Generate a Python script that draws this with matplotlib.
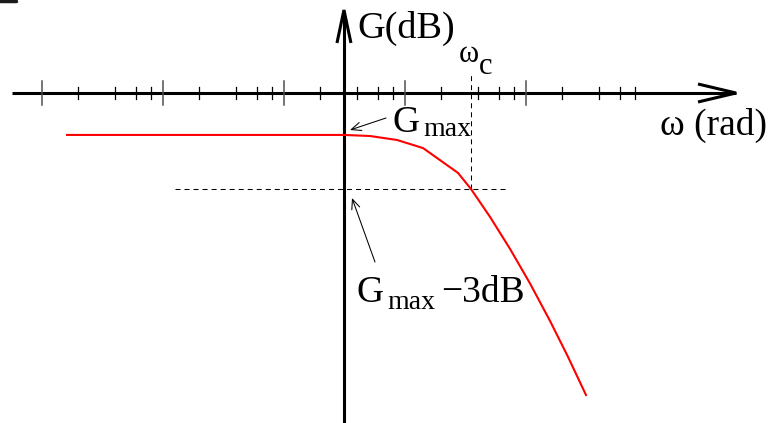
import numpy as np
import matplotlib
matplotlib.use("Agg")
import matplotlib.pyplot as plt
from matplotlib.lines import Line2D

plt.rcParams["font.family"] = ["Liberation Serif", "DejaVu Serif"]
plt.rcParams["lines.scale_dashes"] = False

W, H, DPI = 771, 423, 100

# Low-pass gain response: angular frequency (rad/s) vs gain (dB)
omega = [1.61, 313, 514, 859, 1410, 2742, 3508, 5040, 7378, 10792, 15790, 22250, 31320]
gain_db = [-2.33, -2.33, -2.39, -2.61, -3.06, -4.44, -5.33, -6.88, -8.66, -10.58,
           -12.66, -14.66, -16.78]

g_max = -2.33
omega_c = 3508
omega_gaxis = 313          # where the gain axis crosses the frequency axis

decades = [1, 10, 100, 1000, 10000]
minor_mult = [2, 4, 6, 8]

# pixels per decade / per dB, and the pixel position of (1 rad/s, 0 dB)
PX_PER_DEC = 121.0
PX_PER_DB = 18.0
X0_PX, Y0_PX = 42.0, 93.0


def wx(px):
    """frequency at a horizontal pixel position"""
    return 10 ** ((px - X0_PX) / PX_PER_DEC)


def gy(py):
    """gain at a vertical pixel position (measured from the top)"""
    return (Y0_PX - py) / PX_PER_DB


fig = plt.figure(figsize=(W / DPI, H / DPI), dpi=DPI)
ax = fig.add_axes([0, 0, 1, 1])
ax.set_xscale("log")
ax.set_xlim(wx(0), wx(W))
ax.set_ylim(gy(H), gy(0))
ax.axis("off")

axis_lw = 2.2
k = "black"

# frequency axis with open arrow head
ax.plot([wx(12), wx(736)], [0, 0], color=k, lw=axis_lw, solid_capstyle="butt")
ax.plot([wx(698), wx(736), wx(698)], [gy(84), 0, gy(102)], color=k, lw=axis_lw,
        solid_joinstyle="miter", solid_capstyle="butt")

# gain axis with open arrow head
ax.plot([omega_gaxis, omega_gaxis], [gy(H), gy(11)], color=k, lw=axis_lw, solid_capstyle="butt")
ax.plot([omega_gaxis / 10 ** (7 / PX_PER_DEC), omega_gaxis, omega_gaxis * 10 ** (7 / PX_PER_DEC)],
        [gy(43), gy(10), gy(43)], color=k, lw=axis_lw, solid_joinstyle="miter", solid_capstyle="butt")

# logarithmic ticks
for d in decades:
    ax.plot([d, d], [gy(81), gy(105)], color="#505050", lw=1.1)
    for m in minor_mult:
        ax.plot([d * m, d * m], [gy(87), gy(99)], color=k, lw=0.9)

# -3 dB guide lines
ax.plot([wx(175), wx(508)], [g_max - 3, g_max - 3], color=k, lw=0.75, dashes=(3.6, 2.9))
ax.plot([omega_c, omega_c], [g_max - 3, gy(75)], color=k, lw=0.75, dashes=(3.6, 2.9))

# gain curve
ax.plot(omega, gain_db, color="#ff0000", lw=1.5, solid_joinstyle="miter")


def txt(x, y, s, size, **kw):
    fig.text(x / W, 1 - y / H, s, fontsize=size, ha="left", va="baseline", **kw)


txt(357, 38, "G(dB)", 27.5)
txt(459, 62, "ω", 22)
txt(479, 74, "c", 22)
txt(660, 135, "ω (rad)", 27)
txt(392, 132, "G", 27)
txt(423, 136, "max", 20)
txt(356, 302, "G", 27)
txt(387, 309, "max", 20)
txt(441, 302, "−3dB", 27)

# sliver of the panel letter cut by the top edge
fig.add_artist(Line2D([0 / W, 16 / W], [1 - 1 / H, 1 - 1 / H], transform=fig.transFigure,
                      color="#1a1a1a", lw=2.5, solid_capstyle="round"))

arrow = dict(arrowstyle="->,head_length=7,head_width=3", lw=0.75, color=k,
             mutation_scale=1, shrinkA=0, shrinkB=0)
ax.annotate("", xy=(350, H - 130), xytext=(386, H - 118),
            xycoords="figure pixels", textcoords="figure pixels", arrowprops=arrow)
ax.annotate("", xy=(352, H - 198), xytext=(375, H - 262),
            xycoords="figure pixels", textcoords="figure pixels", arrowprops=arrow)

fig.savefig("out.png", dpi=DPI)
